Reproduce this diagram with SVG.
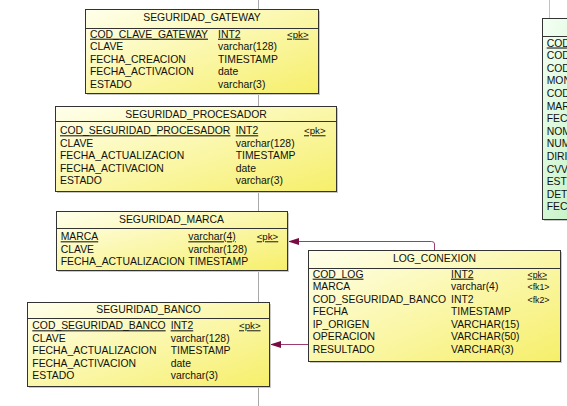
<svg xmlns="http://www.w3.org/2000/svg" width="567" height="406" viewBox="0 0 567 406">
<style>
text{font-family:"Liberation Sans",Arial,sans-serif;font-size:10.4px;fill:#111}
.t{text-anchor:middle}
.k{font-size:9.7px}
.ks{font-size:8.8px}
.u{text-decoration:underline}
.box{fill:url(#yg);stroke:#333;stroke-width:1}
.gbox{fill:url(#gg);stroke:#333;stroke-width:1}
.sh{fill:#c8c8c8}
.hl{stroke:#333;stroke-width:1}
.conn{fill:none;stroke:#9c3d6e;stroke-width:1}
</style>
<defs>
<linearGradient id="yg" x1="0" y1="0" x2="1" y2="1">
<stop offset="0" stop-color="#ffffec"/>
<stop offset="1" stop-color="#f6ef6a"/>
</linearGradient>
<linearGradient id="gg" x1="0" y1="0" x2="1" y2="1">
<stop offset="0" stop-color="#f4fff4"/>
<stop offset="1" stop-color="#b4eeb4"/>
</linearGradient>
<marker id="ah" markerUnits="userSpaceOnUse" markerWidth="12" markerHeight="8" refX="11" refY="3.5" orient="auto">
<path d="M0,0 L11,3.5 L0,7 z" fill="#7a0a42"/>
</marker>
</defs>
<rect width="567" height="406" fill="#fff"/>
<line x1="258.5" y1="0" x2="258.5" y2="406" stroke="#a8a8a8" stroke-width="1"/>
<line x1="549.5" y1="0" x2="549.5" y2="18" stroke="#a8c8e0" stroke-width="1"/>

<g id="connectors">
<path class="conn" d="M434.5,250 V244 Q434.5,241.5 431.5,241.5 H288" marker-end="url(#ah)"/>
<path class="conn" d="M308,344.5 H270" marker-end="url(#ah)"/>
</g>

<g id="SEGURIDAD_GATEWAY">
<rect class="sh" x="87" y="11" width="233" height="84"/>
<rect class="box" x="85.5" y="9.5" width="233" height="84"/>
<line class="hl" x1="85.5" y1="28.5" x2="318.5" y2="28.5"/>
<text class="t" x="202" y="21">SEGURIDAD_GATEWAY</text>
<text class="u" x="90" y="37.7">COD_CLAVE_GATEWAY</text><text class="u" x="218" y="37.7">INT2</text><text class="k u" x="287" y="37.7">&lt;pk&gt;</text>
<text x="90" y="50.2">CLAVE</text><text x="218" y="50.2">varchar(128)</text>
<text x="90" y="62.7">FECHA_CREACION</text><text x="218" y="62.7">TIMESTAMP</text>
<text x="90" y="75.2">FECHA_ACTIVACION</text><text x="218" y="75.2">date</text>
<text x="90" y="87.7">ESTADO</text><text x="218" y="87.7">varchar(3)</text>
</g>

<g id="SEGURIDAD_PROCESADOR">
<rect class="sh" x="57" y="108" width="281" height="85"/>
<rect class="box" x="55.5" y="106.5" width="281" height="85"/>
<line class="hl" x1="55.5" y1="121.5" x2="336.5" y2="121.5"/>
<text class="t" x="196" y="117.7">SEGURIDAD_PROCESADOR</text>
<text class="u" x="60" y="134.3">COD_SEGURIDAD_PROCESADOR</text><text class="u" x="235.7" y="134.3">INT2</text><text class="k u" x="304" y="134.3">&lt;pk&gt;</text>
<text x="60" y="146.8">CLAVE</text><text x="235.7" y="146.8">varchar(128)</text>
<text x="60" y="159.3">FECHA_ACTUALIZACION</text><text x="235.7" y="159.3">TIMESTAMP</text>
<text x="60" y="171.8">FECHA_ACTIVACION</text><text x="235.7" y="171.8">date</text>
<text x="60" y="184.3">ESTADO</text><text x="235.7" y="184.3">varchar(3)</text>
</g>

<g id="SEGURIDAD_MARCA">
<rect class="sh" x="58" y="213" width="231" height="59"/>
<rect class="box" x="56.5" y="211.5" width="231" height="59"/>
<line class="hl" x1="56.5" y1="228.5" x2="287.5" y2="228.5"/>
<text class="t" x="171.5" y="222.7">SEGURIDAD_MARCA</text>
<text class="u" x="60.7" y="240.3">MARCA</text><text class="u" x="188.3" y="240.3">varchar(4)</text><text class="k u" x="256.7" y="240.3">&lt;pk&gt;</text>
<text x="60.7" y="252.6">CLAVE</text><text x="188.3" y="252.6">varchar(128)</text>
<text x="60.7" y="264.9">FECHA_ACTUALIZACION</text><text x="188.3" y="264.9">TIMESTAMP</text>
</g>

<g id="SEGURIDAD_BANCO">
<rect class="sh" x="29" y="304" width="242" height="84"/>
<rect class="box" x="27.5" y="302.5" width="242" height="84"/>
<line class="hl" x1="27.5" y1="318.5" x2="269.5" y2="318.5"/>
<text class="t" x="148.5" y="312.9">SEGURIDAD_BANCO</text>
<text class="u" x="32.3" y="329.3">COD_SEGURIDAD_BANCO</text><text class="u" x="170.7" y="329.3">INT2</text><text class="k u" x="239" y="329.3">&lt;pk&gt;</text>
<text x="32.3" y="341.8">CLAVE</text><text x="170.7" y="341.8">varchar(128)</text>
<text x="32.3" y="354.3">FECHA_ACTUALIZACION</text><text x="170.7" y="354.3">TIMESTAMP</text>
<text x="32.3" y="366.8">FECHA_ACTIVACION</text><text x="170.7" y="366.8">date</text>
<text x="32.3" y="379.3">ESTADO</text><text x="170.7" y="379.3">varchar(3)</text>
</g>

<g id="LOG_CONEXION">
<rect class="sh" x="310" y="252" width="252" height="111"/>
<rect class="box" x="308.5" y="250.5" width="252" height="111"/>
<line class="hl" x1="308.5" y1="268.5" x2="560.5" y2="268.5"/>
<text class="t" x="434.5" y="261.5">LOG_CONEXION</text>
<text class="u" x="312.7" y="277.7">COD_LOG</text><text class="u" x="451" y="277.7">INT2</text><text class="ks u" x="527.5" y="277.7">&lt;pk&gt;</text>
<text x="312.7" y="290.2">MARCA</text><text x="451" y="290.2">varchar(4)</text><text class="ks" x="527.5" y="290.2">&lt;fk1&gt;</text>
<text x="312.7" y="302.7">COD_SEGURIDAD_BANCO</text><text x="451" y="302.7">INT2</text><text class="ks" x="527.5" y="302.7">&lt;fk2&gt;</text>
<text x="312.7" y="315.2">FECHA</text><text x="451" y="315.2">TIMESTAMP</text>
<text x="312.7" y="327.7">IP_ORIGEN</text><text x="451" y="327.7">VARCHAR(15)</text>
<text x="312.7" y="340.2">OPERACION</text><text x="451" y="340.2">VARCHAR(50)</text>
<text x="312.7" y="352.7">RESULTADO</text><text x="451" y="352.7">VARCHAR(3)</text>
</g>

<g id="TABLA_DERECHA">
<rect class="sh" x="544" y="20" width="80" height="201"/>
<rect class="gbox" x="542.5" y="18.5" width="80" height="201"/>
<line class="hl" x1="542.5" y1="36.5" x2="567" y2="36.5"/>
<text class="u" x="546.7" y="46.5">COD</text>
<text x="546.7" y="59.1">COD</text>
<text x="546.7" y="71.7">COD</text>
<text x="546.7" y="84.3">MON</text>
<text x="546.7" y="96.9">COD</text>
<text x="546.7" y="109.5">MAR</text>
<text x="546.7" y="122.1">FEC</text>
<text x="546.7" y="134.7">NOM</text>
<text x="546.7" y="147.3">NUM</text>
<text x="546.7" y="159.9">DIRI</text>
<text x="546.7" y="172.5">CVV</text>
<text x="546.7" y="185.1">EST</text>
<text x="546.7" y="197.7">DET</text>
<text x="546.7" y="210.3">FEC</text>
</g>
</svg>
